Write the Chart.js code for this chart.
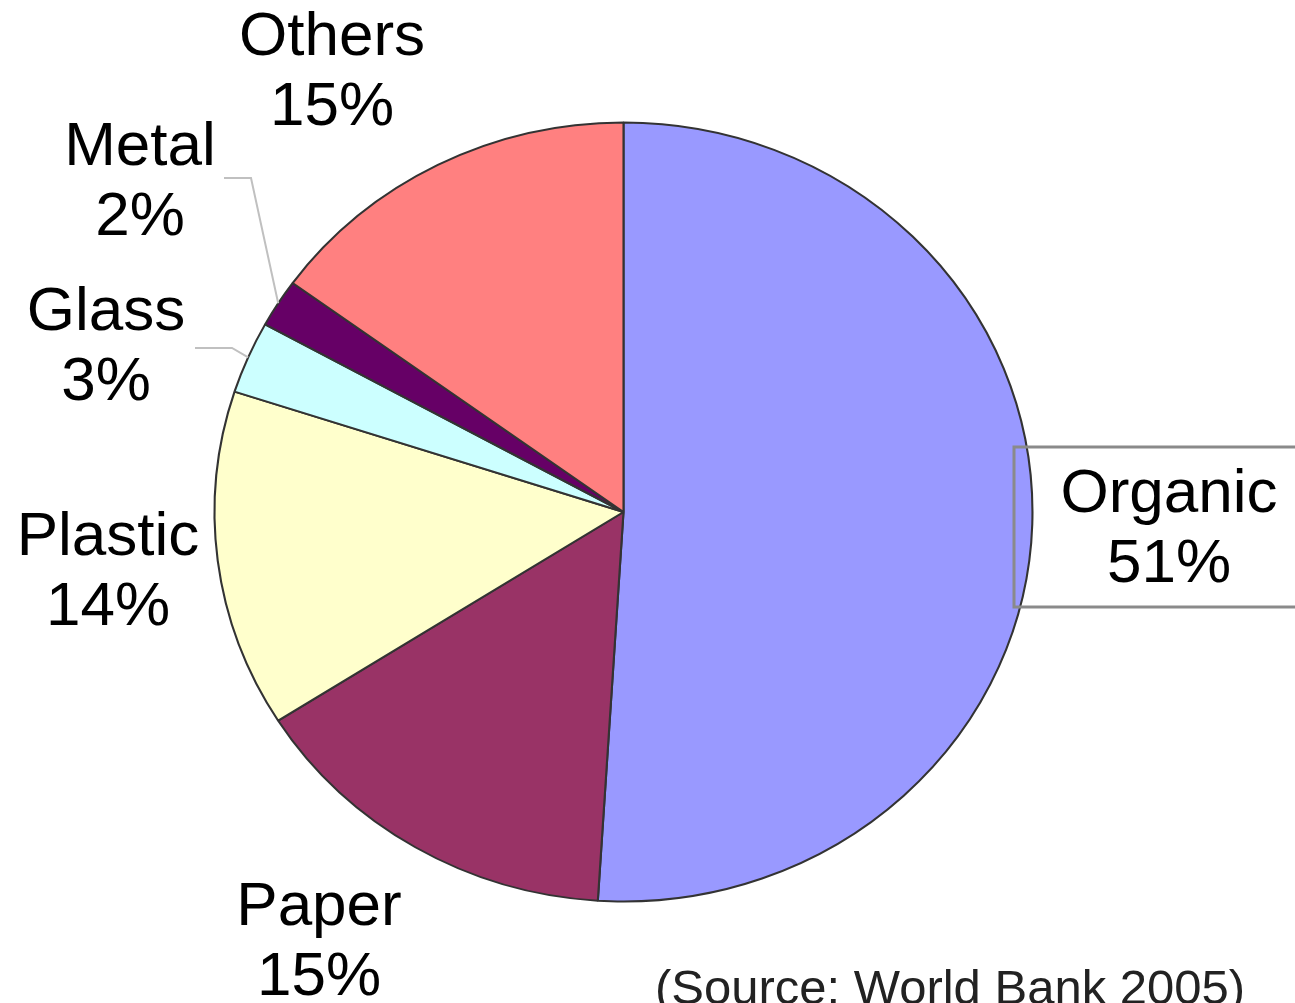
<!DOCTYPE html>
<html>
<head>
<meta charset="utf-8">
<title>Waste composition</title>
<script src="https://cdn.jsdelivr.net/npm/chart.js@4.4.1/dist/chart.umd.min.js"></script>
<style>
  html, body { margin: 0; padding: 0; background: #fff; }
  #wrap { position: relative; width: 1295px; height: 1003px; overflow: hidden; }
</style>
</head>
<body>
<div id="wrap"><canvas id="pie"></canvas></div>
<script>
// Waste composition (World Bank 2005)
const categories = ['Organic', 'Paper', 'Plastic', 'Glass', 'Metal', 'Others'];
const shares = [51, 15, 14, 3, 2, 15];
const sliceColors = ['#9999FF', '#993366', '#FFFFCC', '#CCFFFF', '#660066', '#FF8080'];
const sourceNote = '(Source: World Bank 2005)';

// the original pie is a bit wider than tall
const STRETCH_X = 1.05;
const FONT = '"Liberation Sans", Arial, sans-serif';

// where each two-line label sits (centre x, baseline of first line)
const labelPlaces = {
  Organic: [1169, 512],
  Paper: [319, 925],
  Plastic: [108, 555],
  Glass: [106, 330],
  Metal: [140, 165],
  Others: [332, 55]
};
// leader lines for the small slices: start of line, elbow
const leaders = {
  Metal: [[224, 178], [251, 178]],
  Glass: [[195, 348], [232, 348]]
};

function edgePoint(arc) {
  const a = (arc.startAngle + arc.endAngle) / 2;
  return [arc.x + Math.cos(a) * arc.outerRadius * STRETCH_X, arc.y + Math.sin(a) * arc.outerRadius];
}

const stretchPlugin = {
  id: 'stretch',
  beforeDatasetsDraw(chart) {
    const ctx = chart.ctx;
    const cx = (chart.chartArea.left + chart.chartArea.right) / 2;
    ctx.save();
    ctx.translate(cx, 0);
    ctx.scale(STRETCH_X, 1);
    ctx.translate(-cx, 0);
  },
  afterDatasetsDraw(chart) {
    chart.ctx.restore();
  }
};

const labelPlugin = {
  id: 'sliceLabels',
  afterDraw(chart) {
    const ctx = chart.ctx;
    const meta = chart.getDatasetMeta(0);
    ctx.save();

    // leader lines
    ctx.strokeStyle = '#c0c0c0';
    ctx.lineWidth = 2;
    categories.forEach((cat, i) => {
      if (!leaders[cat]) return;
      const [p0, p1] = leaders[cat];
      const end = edgePoint(meta.data[i]);
      ctx.beginPath();
      ctx.moveTo(p0[0], p0[1]);
      ctx.lineTo(p1[0], p1[1]);
      ctx.lineTo(end[0], end[1]);
      ctx.stroke();
    });

    // box round the Organic label
    ctx.strokeStyle = '#8a8a8a';
    ctx.lineWidth = 3;
    ctx.strokeRect(1014, 447, 300, 160);

    ctx.fillStyle = '#000';
    ctx.textAlign = 'center';
    ctx.textBaseline = 'alphabetic';
    ctx.font = '62px ' + FONT;
    categories.forEach((cat, i) => {
      const [x, y] = labelPlaces[cat];
      ctx.fillText(cat, x, y);
      ctx.fillText(shares[i] + '%', x, y + 70);
    });

    ctx.fillStyle = '#222';
    ctx.textAlign = 'left';
    ctx.font = '49px ' + FONT;
    ctx.fillText(sourceNote, 655, 1004);
    ctx.restore();
  }
};

new Chart(document.getElementById('pie').getContext('2d'), {
  type: 'pie',
  data: {
    labels: categories,
    datasets: [{
      data: shares,
      backgroundColor: sliceColors,
      borderColor: '#333',
      borderWidth: 2
    }]
  },
  options: {
    responsive: true,
    maintainAspectRatio: false,
    animation: false,
    layout: { padding: { left: 233, right: 281, top: 121, bottom: 100 } },
    plugins: {
      legend: { display: false },
      tooltip: { enabled: false }
    }
  },
  plugins: [stretchPlugin, labelPlugin]
});
</script>
</body>
</html>
